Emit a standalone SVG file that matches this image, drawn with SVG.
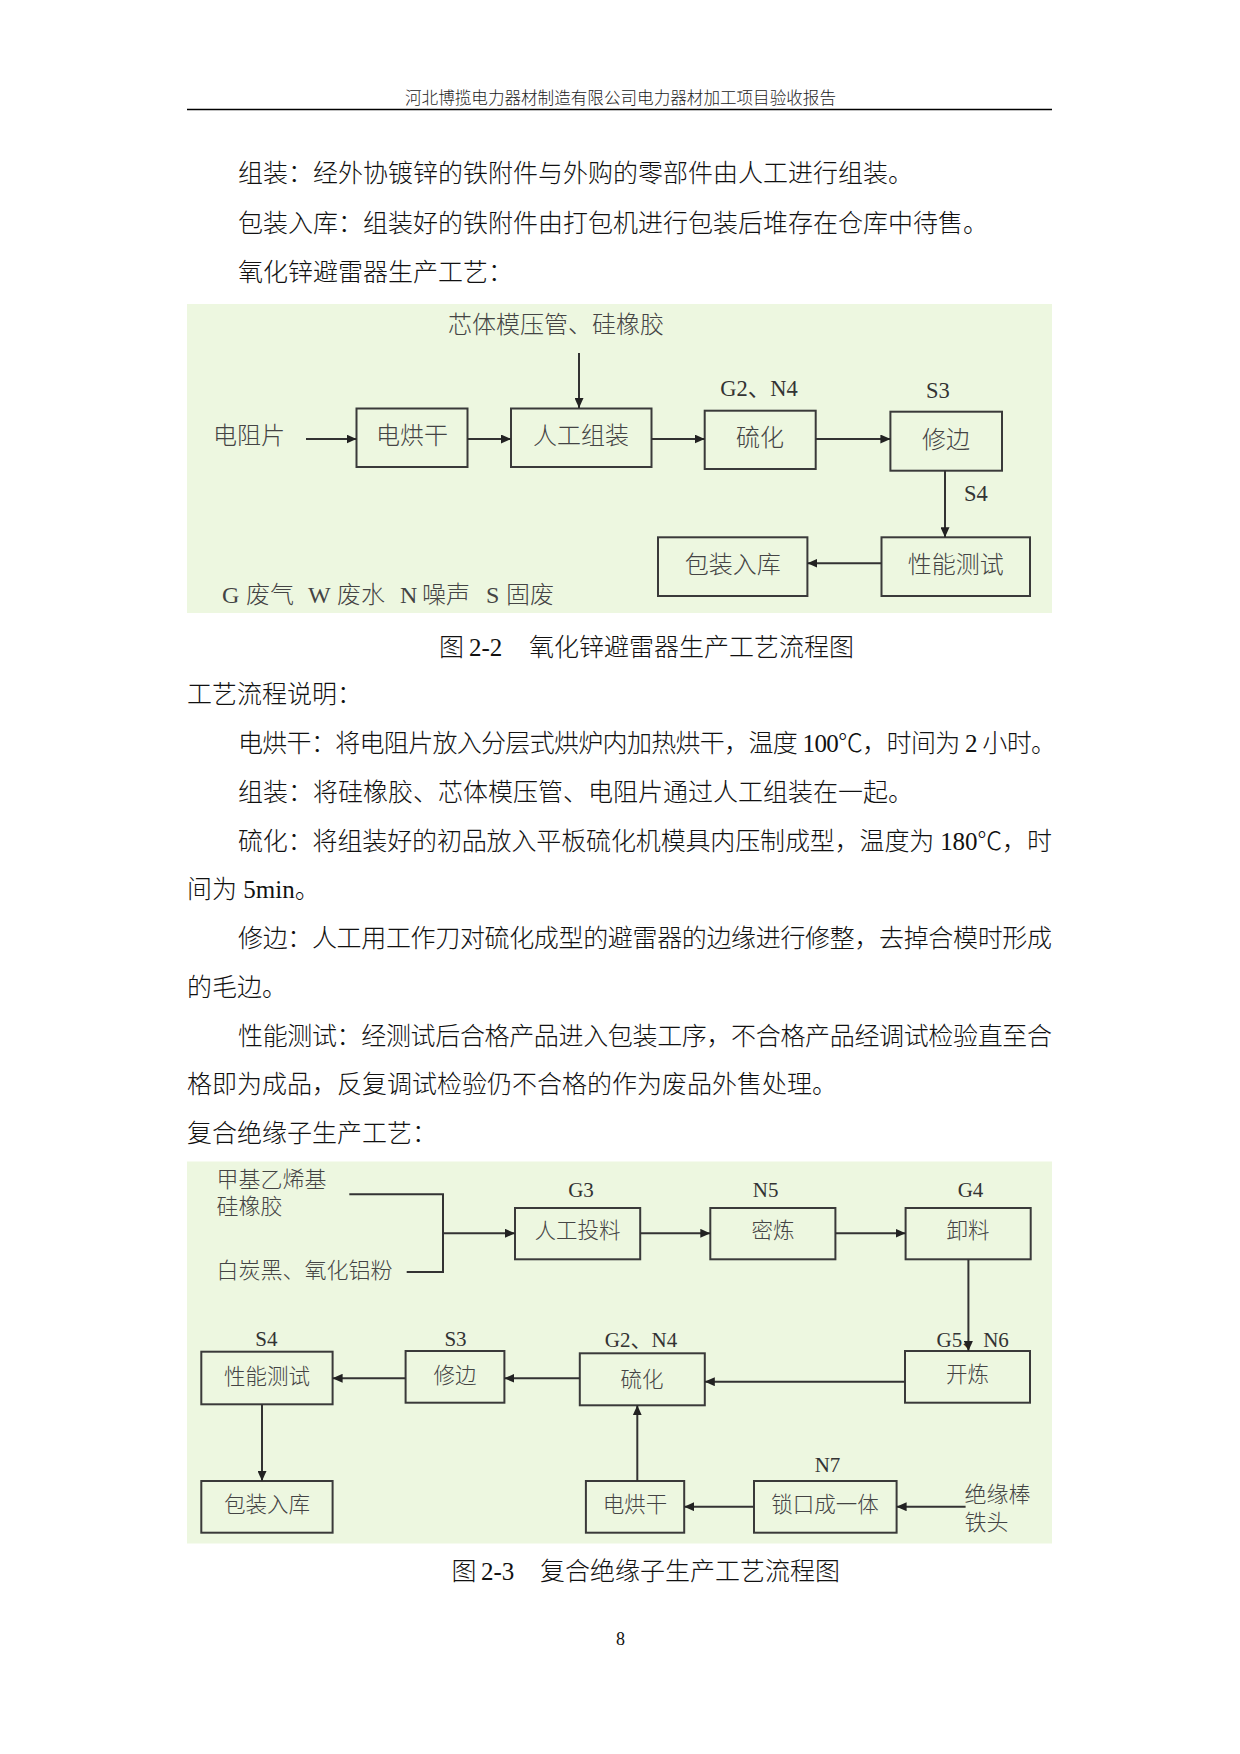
<svg xmlns="http://www.w3.org/2000/svg" width="1240" height="1754" viewBox="0 0 1240 1754">
<style>
.body{font-family:'Liberation Serif','Noto Sans CJK SC',serif;font-size:25px;fill:#111;font-weight:300}
.hdr{font-family:'Liberation Serif','Noto Sans CJK SC',serif;font-size:16.5px;fill:#222;font-weight:300}
.cap{font-family:'Liberation Serif','Noto Sans CJK SC',serif;font-size:25px;fill:#111;font-weight:300}
.box{fill:none;stroke:#3a3a3a;stroke-width:2}
.bg{fill:#edf7e0}
.t1{font-family:'Liberation Serif','Noto Sans CJK SC',serif;font-size:24px;fill:#444;font-weight:300;text-anchor:middle}
.t1l{font-family:'Liberation Serif','Noto Sans CJK SC',serif;font-size:24px;fill:#444;font-weight:300}
.lb1{font-family:'Liberation Serif','Noto Sans CJK SC',serif;font-size:22.5px;fill:#333;text-anchor:middle}
.t2{font-family:'Liberation Serif','Noto Sans CJK SC',serif;font-size:21.5px;fill:#444;font-weight:300;text-anchor:middle}
.t2l{font-family:'Liberation Serif','Noto Sans CJK SC',serif;font-size:22px;fill:#444;font-weight:300}
.lb2{font-family:'Liberation Serif','Noto Sans CJK SC',serif;font-size:21px;fill:#333;text-anchor:middle}
.ln{fill:none;stroke:#333;stroke-width:2}
.arr{fill:none;stroke:#333;stroke-width:2;marker-end:url(#ah)}
</style>
<defs>
<marker id="ah" markerWidth="10" markerHeight="9" refX="10" refY="4.5" orient="auto" markerUnits="userSpaceOnUse">
<path d="M0,0 L10,4.5 L0,9 z" fill="#222"/>
</marker>
</defs>
<rect x="0" y="0" width="1240" height="1754" fill="#ffffff"/>

<!-- header -->
<text class="hdr" x="405" y="104" textLength="431" lengthAdjust="spacingAndGlyphs">河北博揽电力器材制造有限公司电力器材加工项目验收报告</text>
<line x1="187" y1="109.6" x2="1052" y2="109.6" stroke="#000" stroke-width="1.5"/>

<!-- body text top -->
<text class="body" x="238" y="182">组装：经外协镀锌的铁附件与外购的零部件由人工进行组装。</text>
<text class="body" x="238" y="231.5">包装入库：组装好的铁附件由打包机进行包装后堆存在仓库中待售。</text>
<text class="body" x="238" y="281">氧化锌避雷器生产工艺：</text>

<!-- Diagram 1 -->
<rect class="bg" x="187" y="304" width="865" height="309"/>
<g id="d1-input-top"><text class="t1" x="556" y="333">芯体模压管、硅橡胶</text></g>
<g id="d1-input-left"><text class="t1" x="249" y="444">电阻片</text></g>
<g id="d1-dry"><rect class="box" x="356.5" y="408.5" width="111" height="58.5"/><text class="t1" x="412" y="444">电烘干</text></g>
<g id="d1-assemble"><rect class="box" x="511" y="408.5" width="140.5" height="58.5"/><text class="t1" x="581" y="444">人工组装</text></g>
<g id="d1-vulcanize"><rect class="box" x="704.7" y="410.7" width="111" height="58.3"/><text class="t1" x="760" y="446">硫化</text><text class="lb1" x="759" y="396">G2、N4</text></g>
<g id="d1-trim"><rect class="box" x="890.4" y="411.7" width="111.6" height="59"/><text class="t1" x="946" y="447.5">修边</text><text class="lb1" x="938" y="397.5">S3</text></g>
<g id="d1-test"><rect class="box" x="881.5" y="537.3" width="148.5" height="58.7"/><text class="t1" x="955.7" y="572.5">性能测试</text></g>
<g id="d1-pack"><rect class="box" x="658" y="537.3" width="149.4" height="58.7"/><text class="t1" x="732.7" y="572.5">包装入库</text></g>
<g id="d1-s4"><text class="lb1" x="976" y="501">S4</text></g>
<g id="d1-legend">
<text class="t1l" y="602.5"><tspan x="222">G</tspan><tspan x="246">废气</tspan><tspan x="308">W</tspan><tspan x="337">废水</tspan><tspan x="400">N</tspan><tspan x="422">噪声</tspan><tspan x="486">S</tspan><tspan x="506">固废</tspan></text>
</g>
<g id="d1-connectors">
<line class="arr" x1="579" y1="353" x2="579" y2="408"/>
<line class="arr" x1="306" y1="439" x2="356.5" y2="439"/>
<line class="arr" x1="467.5" y1="439" x2="511" y2="439"/>
<line class="arr" x1="651.5" y1="439" x2="704.7" y2="439"/>
<line class="arr" x1="815.7" y1="439" x2="890.4" y2="439"/>
<line class="arr" x1="945" y1="470.7" x2="945" y2="537.3"/>
<line class="arr" x1="881.5" y1="563.3" x2="807.4" y2="563.3"/>
</g>

<!-- caption 1 -->
<text class="cap" y="655.5"><tspan x="439">图</tspan><tspan x="469">2-2</tspan><tspan x="529">氧化锌避雷器生产工艺流程图</tspan></text>

<!-- body text middle -->
<text class="body" x="187" y="703">工艺流程说明：</text>
<text class="body" x="238" y="751.5" textLength="818" lengthAdjust="spacing">电烘干：将电阻片放入分层式烘炉内加热烘干，温度 100℃，时间为 2 小时。</text>
<text class="body" x="238" y="800.5">组装：将硅橡胶、芯体模压管、电阻片通过人工组装在一起。</text>
<text class="body" x="238" y="849.5" textLength="814" lengthAdjust="spacing">硫化：将组装好的初品放入平板硫化机模具内压制成型，温度为 180℃，时</text>
<text class="body" x="187" y="898">间为 5min。</text>
<text class="body" x="238" y="947" textLength="814" lengthAdjust="spacing">修边：人工用工作刀对硫化成型的避雷器的边缘进行修整，去掉合模时形成</text>
<text class="body" x="187" y="995.5">的毛边。</text>
<text class="body" x="238" y="1044.5" textLength="814" lengthAdjust="spacing">性能测试：经测试后合格产品进入包装工序，不合格产品经调试检验直至合</text>
<text class="body" x="187" y="1093">格即为成品，反复调试检验仍不合格的作为废品外售处理。</text>
<text class="body" x="187" y="1142">复合绝缘子生产工艺：</text>

<!-- Diagram 2 -->
<rect class="bg" x="187" y="1161.5" width="865" height="382"/>
<g id="d2-in1"><text class="t2l" y="1187" font-size="23.5"><tspan x="216.5">甲基乙烯基</tspan><tspan x="216.5" dy="26.7">硅橡胶</tspan></text></g>
<g id="d2-in2"><text class="t2l" x="216.5" y="1278">白炭黑、氧化铝粉</text></g>
<g id="d2-feed"><rect class="box" x="515" y="1208" width="125.2" height="51.3"/><text class="t2" x="577.6" y="1238">人工投料</text><text class="lb2" x="581" y="1196.5">G3</text></g>
<g id="d2-mix"><rect class="box" x="710.3" y="1208" width="125.1" height="51.3"/><text class="t2" x="772.9" y="1238">密炼</text><text class="lb2" x="765.7" y="1196.5">N5</text></g>
<g id="d2-unload"><rect class="box" x="905.6" y="1208" width="125.1" height="51.3"/><text class="t2" x="968" y="1238">卸料</text><text class="lb2" x="970.5" y="1196.5">G4</text></g>
<g id="d2-open"><rect class="box" x="905" y="1351" width="125" height="51.7"/><text class="t2" x="967.5" y="1382">开炼</text><text class="lb2" x="972.7" y="1346.7">G5、N6</text></g>
<g id="d2-vulcanize"><rect class="box" x="579.8" y="1353.3" width="125" height="52"/><text class="t2" x="642" y="1386.5">硫化</text><text class="lb2" x="641" y="1347">G2、N4</text></g>
<g id="d2-trim"><rect class="box" x="405.6" y="1351" width="98.8" height="51.7"/><text class="t2" x="455" y="1383">修边</text><text class="lb2" x="455.5" y="1345.5">S3</text></g>
<g id="d2-test"><rect class="box" x="201.3" y="1351.7" width="131.3" height="52.6"/><text class="t2" x="267" y="1384">性能测试</text><text class="lb2" x="266.4" y="1345.5">S4</text></g>
<g id="d2-pack"><rect class="box" x="201.3" y="1481" width="131.3" height="51.7"/><text class="t2" x="267" y="1511.5">包装入库</text></g>
<g id="d2-dry"><rect class="box" x="585.9" y="1481" width="98.3" height="51.7"/><text class="t2" x="635" y="1511.5">电烘干</text></g>
<g id="d2-lock"><rect class="box" x="754" y="1481" width="142.6" height="51.7"/><text class="t2" x="825" y="1511.5">锁口成一体</text><text class="lb2" x="827.5" y="1472">N7</text></g>
<g id="d2-in3"><text class="t2l" y="1501.5"><tspan x="964.5">绝缘棒</tspan><tspan x="964.5" dy="28.4">铁头</tspan></text></g>
<g id="d2-connectors">
<polyline class="ln" points="349.3,1194.3 443,1194.3 443,1272 406.7,1272"/>
<line class="arr" x1="443" y1="1233.3" x2="515" y2="1233.3"/>
<line class="arr" x1="640.2" y1="1233.3" x2="710.3" y2="1233.3"/>
<line class="arr" x1="835.4" y1="1233.3" x2="905.6" y2="1233.3"/>
<line class="arr" x1="968.4" y1="1259.3" x2="968.4" y2="1351"/>
<line class="arr" x1="905" y1="1381.7" x2="704.8" y2="1381.7"/>
<line class="arr" x1="579.8" y1="1378.3" x2="504.4" y2="1378.3"/>
<line class="arr" x1="405.6" y1="1378.3" x2="332.6" y2="1378.3"/>
<line class="arr" x1="262" y1="1404.3" x2="262" y2="1481"/>
<line class="arr" x1="637.3" y1="1481" x2="637.3" y2="1405.3"/>
<line class="arr" x1="754" y1="1506.7" x2="684.2" y2="1506.7"/>
<line class="arr" x1="965.6" y1="1506.7" x2="896.6" y2="1506.7"/>
</g>

<!-- caption 2 -->
<text class="cap" y="1580"><tspan x="451.5">图</tspan><tspan x="481">2-3</tspan><tspan x="540">复合绝缘子生产工艺流程图</tspan></text>

<!-- page number -->
<text x="620.5" y="1645" font-family="'Liberation Serif',serif" font-size="18" fill="#111" text-anchor="middle">8</text>
</svg>
